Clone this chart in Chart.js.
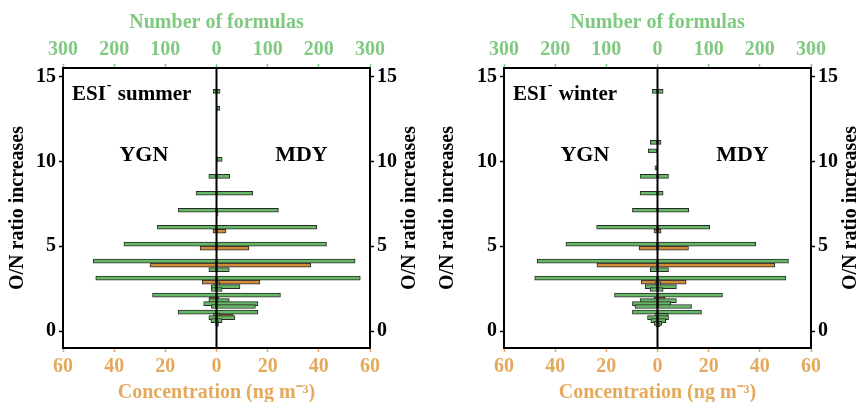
<!DOCTYPE html>
<html>
<head>
<meta charset="utf-8">
<title>ESI- O/N ratio distribution</title>
<script src="https://cdn.jsdelivr.net/npm/chart.js@4.4.1/dist/chart.umd.min.js"></script>
<style>
  html, body { margin: 0; padding: 0; background: #fff; }
  #wrap { position: relative; width: 861px; height: 402px; }
  #summerChart { position: absolute; left: 0; top: 0; }
  #winterChart { position: absolute; left: 430px; top: 0; }
</style>
</head>
<body>
<div id="wrap">
  <canvas id="summerChart" width="430" height="402"></canvas>
  <canvas id="winterChart" width="431" height="402"></canvas>
</div>
<script>
"use strict";

/**************************************************************
 * Data
 **************************************************************/
const ratioTicks = [0, 5, 10, 15];

// summer: O/N ratio rows, formula counts and concentrations per site
const summerRatio = [14, 13, 10, 9, 8, 7, 6, 5, 4, 3.5, 3, 2.67, 2.5, 2.33, 2, 1.67, 1.5, 1.33, 1, 0.8, 0.67, 0.5, 0.33, 0.25];
const summerYgnFormulas = [6.5, 0, 0, 15, 40, 75, 116, 181, 241, 15, 236, 3, 10, 10, 125, 15, 25, 10, 75, 6, 15, 11, 2, 0];
const summerMdyFormulas = [7, 6.5, 11, 26, 71, 121, 196, 215, 271, 25, 281, 6, 46, 11, 125, 25, 81, 76, 81, 6, 36, 11, 4, 3];
const summerYgnConc = [0, 0, 0, 0, 0, 0, 1.4, 6.4, 26, 0, 5.6, 0, 0, 0, 2.8, 0, 0, 0, 0.7, 0, 0, 0, 0, 0];
const summerMdyConc = [0, 0, 0, 0, 0, 0.6, 3.7, 12.7, 36.8, 0, 17, 0, 0, 0, 1, 0, 0, 0, 6.5, 0, 0, 0, 0, 0];

// winter
const winterRatio = [14, 11, 10.5, 9.5, 9, 8, 7, 6, 5, 4, 3.5, 3, 2.67, 2.5, 2.33, 2, 1.67, 1.5, 1.33, 1, 0.8, 0.67, 0.5, 0.33, 0.25];
const winterYgnFormulas = [10, 14, 18, 5, 34, 34, 49, 119, 179, 235, 14, 240, 5, 24, 14.5, 84, 34, 49, 44, 49, 5, 19.5, 13, 6.5, 3];
const winterMdyFormulas = [11, 7, 0, 0, 21.5, 11, 61, 102, 192, 256, 21.5, 251, 6.5, 37, 11, 127, 37, 26, 66.5, 86, 21, 21.5, 16, 8.5, 5];
const winterYgnConc = [0, 0, 0, 0, 0, 0, 0, 1.4, 7.2, 23.7, 0, 6.3, 0, 0, 0, 1.3, 0, 0, 0, 0, 0, 0, 0, 0, 0];
const winterMdyConc = [0, 0, 0, 0, 0, 0, 0, 1.4, 12.1, 45.8, 0, 11.2, 0, 0, 0, 3.0, 0, 0, 0, 0, 0, 0, 0, 0, 0];

/**************************************************************
 * Styles
 **************************************************************/
const SERIF = "'Liberation Serif', 'Times New Roman', serif";
const GREEN_BAR = "#66b866";
const ORANGE_BAR = "#d28c3c";
const BAR_EDGE = "#2a2a2a";
const GREEN_TEXT = "#80c980";
const ORANGE_TEXT = "#e5a95c";

function boldFont(size) {
  return { family: SERIF, size: size, weight: "bold" };
}

/**************************************************************
 * Datasets
 * YGN goes to the left (negative), MDY to the right.
 * The two stacks put formulas just above and concentration
 * just below each O/N row.
 **************************************************************/
function barSet(label, ratios, values, side, stack, axis, colour) {
  const points = [];
  ratios.forEach((r, i) => {
    if (values[i]) points.push({ x: side * values[i], y: r });
  });

  return {
    label: label,
    data: points,
    stack: stack,
    xAxisID: axis,
    yAxisID: "y",
    backgroundColor: colour,
    borderColor: BAR_EDGE,
    borderWidth: 1,
    borderSkipped: false,
    barThickness: 4,
  };
}

/**************************************************************
 * Scales
 **************************************************************/
function ratioAxis(position, width, withTitle) {
  return {
    type: "linear",
    position: position,
    min: -1,
    max: 15.5,
    offset: false,
    afterBuildTicks: (scale) => {
      scale.ticks = ratioTicks.map((v) => ({ value: v }));
    },
    afterFit: (scale) => {
      scale.width = width;
    },
    ticks: { color: "#000", font: boldFont(20), padding: 3 },
    grid: { drawOnChartArea: false, offset: false, tickLength: 4, tickColor: "#000", tickWidth: 1.5 },
    border: { color: "#000", width: 2 },
    title: {
      display: withTitle,
      text: "O/N ratio increases",
      color: "#000",
      font: boldFont(20),
      padding: { top: 6, bottom: 0 },
    },
  };
}

function buildScales(leftWidth, rightWidth) {
  return {
    x: {
      type: "linear",
      position: "bottom",
      min: -60,
      max: 60,
      stacked: false,
      afterFit: (scale) => {
        scale.height = 54;
      },
      ticks: {
        stepSize: 20,
        color: ORANGE_TEXT,
        font: boldFont(20),
        padding: 3,
        callback: (v) => Math.abs(v),
      },
      grid: { drawOnChartArea: false, tickLength: 4, tickColor: ORANGE_TEXT, tickWidth: 1.5 },
      border: { color: "#000", width: 2 },
      title: {
        display: true,
        text: "Concentration (ng m\u207B\u00B3)",
        color: ORANGE_TEXT,
        font: { family: SERIF, size: 20, weight: "bold", lineHeight: 0.9 },
        padding: { top: 0, bottom: 0 },
      },
    },
    x2: {
      type: "linear",
      position: "top",
      min: -300,
      max: 300,
      stacked: false,
      afterFit: (scale) => {
        scale.height = 68;
      },
      ticks: {
        stepSize: 100,
        color: GREEN_TEXT,
        font: boldFont(20),
        padding: 2,
        callback: (v) => Math.abs(v),
      },
      grid: { drawOnChartArea: false, tickLength: 4, tickColor: GREEN_TEXT, tickWidth: 1.5 },
      border: { color: "#000", width: 2 },
      title: {
        display: true,
        text: "Number of formulas",
        color: GREEN_TEXT,
        font: boldFont(20),
        padding: { top: 11, bottom: 0 },
      },
    },
    y: ratioAxis("left", leftWidth, true),
    y2: ratioAxis("right", rightWidth, false),
  };
}

/**************************************************************
 * Panel text: zero line, season tag, site names, right title
 **************************************************************/
const panelText = {
  id: "panelText",

  afterDatasetsDraw(chart, args, opts) {
    const { ctx, chartArea: area, scales } = chart;

    // zero line over the bars
    const x0 = scales.x.getPixelForValue(0);
    ctx.save();
    ctx.strokeStyle = "#000";
    ctx.lineWidth = 2;
    ctx.beginPath();
    ctx.moveTo(x0, area.top);
    ctx.lineTo(x0, area.bottom);
    ctx.stroke();

    ctx.fillStyle = "#000";
    ctx.textBaseline = "alphabetic";
    ctx.textAlign = "left";

    // ESI- season tag
    const tagX = area.left + 9;
    const tagY = area.top + 32;
    ctx.font = "bold 21px " + SERIF;
    ctx.fillText("ESI", tagX, tagY);
    const esiWidth = ctx.measureText("ESI").width;
    ctx.font = "bold 14px " + SERIF;
    ctx.fillText("-", tagX + esiWidth + 1, tagY - 11);
    ctx.font = "bold 21px " + SERIF;
    ctx.fillText(opts.season, tagX + esiWidth + 12, tagY);

    // site names
    ctx.font = "bold 22px " + SERIF;
    ctx.textAlign = "center";
    const nameY = scales.y.getPixelForValue(10);
    ctx.fillText("YGN", scales.x2.getPixelForValue(-142), nameY);
    ctx.fillText("MDY", scales.x2.getPixelForValue(166), nameY);

    // right axis title, same reading direction as the left one
    ctx.translate(area.right + 40, (area.top + area.bottom) / 2);
    ctx.rotate(-Math.PI / 2);
    ctx.font = "bold 20px " + SERIF;
    ctx.textBaseline = "middle";
    ctx.fillText("O/N ratio increases", 0, 0);
    ctx.restore();
  },
};

/**************************************************************
 * Build one panel
 **************************************************************/
function makePanel(canvasId, season, ratios, ygnF, mdyF, ygnC, mdyC, leftWidth, rightWidth) {
  const ctx = document.getElementById(canvasId).getContext("2d");

  return new Chart(ctx, {
    type: "bar",
    data: {
      datasets: [
        barSet("YGN formulas", ratios, ygnF, -1, "formulas", "x2", GREEN_BAR),
        barSet("MDY formulas", ratios, mdyF, 1, "formulas", "x2", GREEN_BAR),
        barSet("YGN concentration", ratios, ygnC, -1, "conc", "x", ORANGE_BAR),
        barSet("MDY concentration", ratios, mdyC, 1, "conc", "x", ORANGE_BAR),
      ],
    },
    options: {
      indexAxis: "y",
      responsive: false,
      animation: false,
      layout: { padding: 0 },
      scales: buildScales(leftWidth, rightWidth),
      plugins: {
        legend: { display: false },
        tooltip: { enabled: false },
        panelText: { season: season },
      },
    },
    plugins: [panelText],
  });
}

makePanel("summerChart", "summer", summerRatio, summerYgnFormulas, summerMdyFormulas, summerYgnConc, summerMdyConc, 63, 60);
makePanel("winterChart", "winter", winterRatio, winterYgnFormulas, winterMdyFormulas, winterYgnConc, winterMdyConc, 74, 50);
</script>
</body>
</html>
